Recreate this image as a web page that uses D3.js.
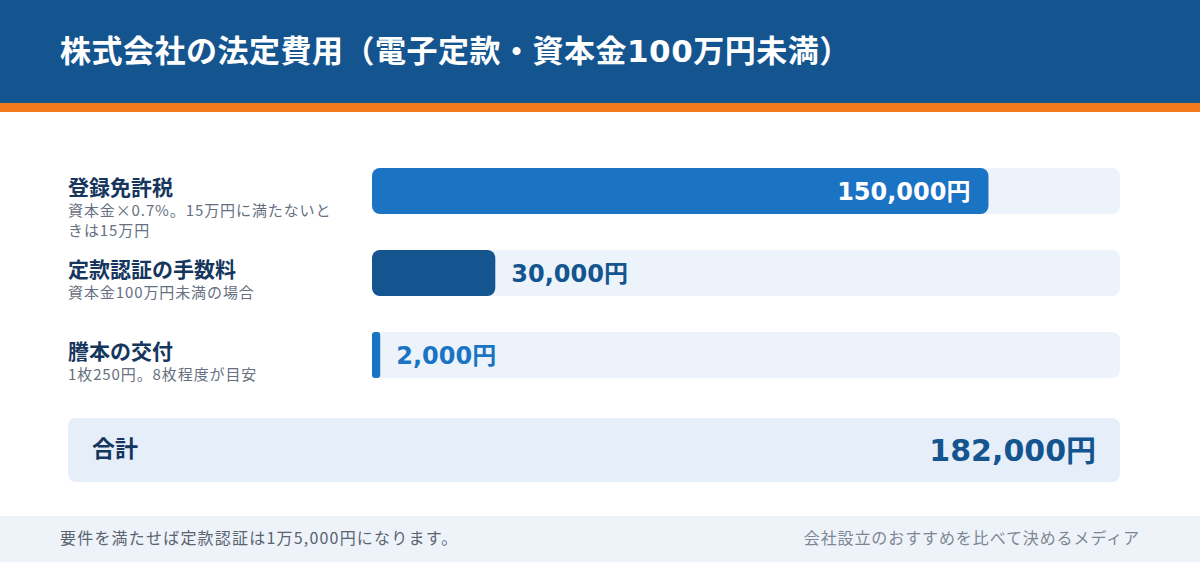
<!DOCTYPE html><html><head><meta charset="utf-8"><script src="https://cdn.jsdelivr.net/npm/d3@7"></script>
<style>body{margin:0}svg{display:block;font-family:"Noto Sans CJK JP","Noto Sans",sans-serif}</style></head><body><svg id="c" width="1200" height="562"></svg>
<script>
const categories=["登録免許税","定款認証の手数料","謄本の交付"];
const notes=[["資本金×0.7%。15万円に満たないと","きは15万円"],["資本金100万円未満の場合"],["1枚250円。8枚程度が目安"]];
const values=[150000,30000,2000];
const valueLabels=["150,000円","30,000円","2,000円"];
const barColors=["#1b73c4","#14548f","#1b73c4"];
const labelColors=["#ffffff","#14548f","#1b73c4"];
const total=182000, totalLabel="182,000円";
const numFont="'DejaVu Sans','Noto Sans CJK JP'";
const svg=d3.select("#c");
svg.append("rect").attr("width",1200).attr("height",562).attr("fill","#fff");
svg.append("rect").attr("width",1200).attr("height",104).attr("fill","#14548f");
svg.append("rect").attr("y",103).attr("width",1200).attr("height",9).attr("fill","#f47a20");
svg.append("text").attr("x",60).attr("y",62).attr("fill","#fff").attr("font-size",31).attr("font-weight",700).attr("font-family",numFont).attr("letter-spacing",0.5).text("株式会社の法定費用（電子定款・資本金100万円未満）");
const x=d3.scaleLinear().domain([0,total]).range([372,1120]);
categories.forEach((c,i)=>{
  const yy=168+i*82, h=46;
  svg.append("rect").attr("x",372).attr("y",yy).attr("width",748).attr("height",h).attr("rx",8).attr("fill","#ecf3fb");
  const w=Math.max(x(values[i])-x(0),6);
  svg.append("rect").attr("x",372).attr("y",yy).attr("width",w).attr("height",h).attr("rx",i==2?3:8).attr("fill",barColors[i]);
  const inside=i==0;
  svg.append("text").attr("x",inside?x(values[i])-18:372+w+16).attr("y",yy+32).attr("text-anchor",inside?"end":"start")
    .attr("fill",labelColors[i]).attr("font-size",24).attr("font-weight",700).attr("font-family",numFont).text(valueLabels[i]);
  svg.append("text").attr("x",68).attr("y",yy+27).attr("fill","#16365e").attr("font-size",21).attr("font-weight",700).text(c);
  notes[i].forEach((n,j)=>svg.append("text").attr("x",68).attr("y",yy+48+j*20).attr("fill","#667080").attr("font-size",15).attr("letter-spacing",0.9).text(n));
});
svg.append("rect").attr("x",68).attr("y",418).attr("width",1052).attr("height",64).attr("rx",8).attr("fill","#e6eef9");
svg.append("text").attr("x",92).attr("y",457).attr("fill","#16365e").attr("font-size",23).attr("font-weight",700).text("合計");
svg.append("text").attr("x",1096).attr("y",461).attr("text-anchor","end").attr("fill","#14548f").attr("font-size",30).attr("font-weight",700).attr("font-family",numFont).text(totalLabel);
svg.append("rect").attr("y",516).attr("width",1200).attr("height",46).attr("fill","#eef3fa");
svg.append("text").attr("x",60).attr("y",544).attr("fill","#5a6470").attr("font-size",16).attr("letter-spacing",1.2).text("要件を満たせば定款認証は1万5,000円になります。");
svg.append("text").attr("x",1140).attr("y",544).attr("text-anchor","end").attr("fill","#7d8793").attr("font-size",16).attr("letter-spacing",0.9).text("会社設立のおすすめを比べて決めるメディア");
</script></body></html>
